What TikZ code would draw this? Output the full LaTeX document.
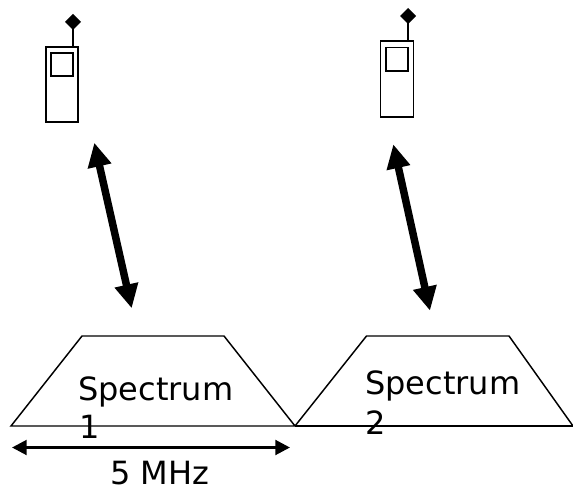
\documentclass[tikz,border=0pt]{standalone}
\usepackage{fontspec}
\setmainfont{DejaVu Sans}
\usetikzlibrary{arrows.meta}
\tikzset{
  px/.style={x=0.75pt,y=-0.75pt},
  lbl/.style={inner sep=0pt,font=\fontsize{24}{24}\selectfont,anchor=base west},
  phonepart/.style={draw=black,line width=1.4pt,fill=none},
  tip/.style={fill=black,draw=none},
  thick arrow/.style={line width=5.6pt,{Triangle[length=18pt,width=17pt]}-{Triangle[length=18pt,width=17pt]}},
  thin arrow/.style={line width=2.2pt,{Triangle[length=11pt,width=11pt]}-{Triangle[length=11pt,width=11pt]}},
  spec/.style={draw=black,line width=1.1pt,line join=miter}
}
\begin{document}
\begin{tikzpicture}[px]
\useasboundingbox (0,0) rectangle (573,488);
% phone 1
\coordinate (p1top) at (73,47);
\coordinate (p1ant) at (73,22);
\draw[phonepart] (46,47) rectangle (78,122);
\draw[phonepart] (51,53) rectangle (73,76);
\draw[line width=1.9pt] (p1top) -- (p1ant);
\fill[tip] (73,14) -- (81,22) -- (73,30) -- (65,22) -- cycle;
% phone 2
\coordinate (p2top) at (408,41);
\coordinate (p2ant) at (408,16);
\draw[phonepart] (380.5,41) rectangle (413.5,117);
\draw[phonepart] (386,47.5) rectangle (408,71);
\draw[line width=1.9pt] (p2top) -- (p2ant);
\fill[tip] (408,8) -- (416,16) -- (408,24) -- (400,16) -- cycle;
% links
\coordinate (a1s) at (94.3,142.7);
\coordinate (a1e) at (131.7,308.3);
\coordinate (a2s) at (393.3,144.3);
\coordinate (a2e) at (430,310.7);
\draw[thick arrow] (a1s) -- (a1e);
\draw[thick arrow] (a2s) -- (a2e);
% spectra
\draw[spec] (11,426) -- (82,336) -- (224,336) -- (295,426) -- cycle;
\draw[spec] (295,426) -- (366.5,336) -- (509,336) -- (573,426);
\draw[spec] (295,426) -- (573,426);
% labels
\node[lbl] (s1) at (78,400) {Spectrum};
\node[lbl] (n1) at (79,438) {1};
\node[lbl] (s2) at (365,394) {Spectrum};
\node[lbl] (n2) at (365,434) {2};
% width
\coordinate (wl) at (12,447.5);
\coordinate (wr) at (290,447.5);
\draw[thin arrow] (wl) -- (wr);
\node[lbl] (mhz) at (110,484) {5 MHz};
\end{tikzpicture}
\end{document}
